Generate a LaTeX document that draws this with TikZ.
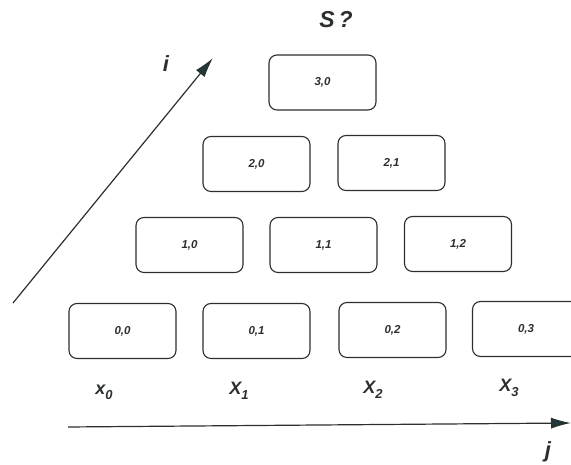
\documentclass[tikz,border=0pt]{standalone}
\usepackage{fontspec}
\setmainfont{Liberation Sans}
\usetikzlibrary{arrows.meta}
\definecolor{ink}{HTML}{2B2F2F}
\definecolor{tipink}{HTML}{1F3A3A}
\tikzset{cell/.style={draw=ink, line width=1.1pt, rounded corners=8pt,
    minimum width=107pt, minimum height=55pt, font=\fontsize{11.5}{13}\selectfont\bfseries\itshape, text=ink},
  axis/.style={draw=ink, line width=1.2pt, -{Latex[length=20pt,width=11pt,fill=tipink]}},
  lab/.style={font=\fontsize{18}{20}\selectfont\bfseries\itshape, text=ink}}
\newcommand{\cell}[3]{\node[cell] (c#1#2) at (#3) {#1,#2}}
\newcommand{\sub}[1]{\raisebox{-5pt}{\fontsize{13}{14}\selectfont #1}}

\begin{document}
\begin{tikzpicture}[x=1pt,y=1pt]
\useasboundingbox (0,0) rectangle (571,465);
%Row zero
	\cell{0}{0}{122.5,134};
	\cell{0}{1}{256.5,134};
	\cell{0}{2}{392.5,135};
	\cell{0}{3}{526,136};
%Row one
	\cell{1}{0}{189.5,220};
	\cell{1}{1}{323.5,220};
	\cell{1}{2}{458,221};
%Row two
	\cell{2}{0}{256.5,301};
	\cell{2}{1}{391.5,302};
%Row three
	\cell{3}{0}{322.5,382.5};
	\node[lab, font=\fontsize{23}{25}\selectfont\bfseries\itshape] (query) at (336,445) {S\,?};
%Inputs
	\node[lab] (x0) at (104,73) {x\sub{0}};
	\node[lab] (x1) at (239,74) {X\sub{1}};
	\node[lab] (x2) at (373,75) {X\sub{2}};
	\node[lab] (x3) at (509,77) {X\sub{3}};
%Axes
	\coordinate (istart) at (13,162);
	\coordinate (iend) at (213,407);
	\coordinate (jstart) at (68,38);
	\coordinate (jend) at (571,42);
	\draw[axis] (istart) -- (iend);
	\draw[axis] (jstart) -- (jend);
	\node[lab, font=\fontsize{22}{24}\selectfont\bfseries\itshape] (ilab) at (166,401) {i};
	\node[lab, font=\fontsize{22}{24}\selectfont\bfseries\itshape] (jlab) at (548,13) {j};
\end{tikzpicture}
\end{document}
